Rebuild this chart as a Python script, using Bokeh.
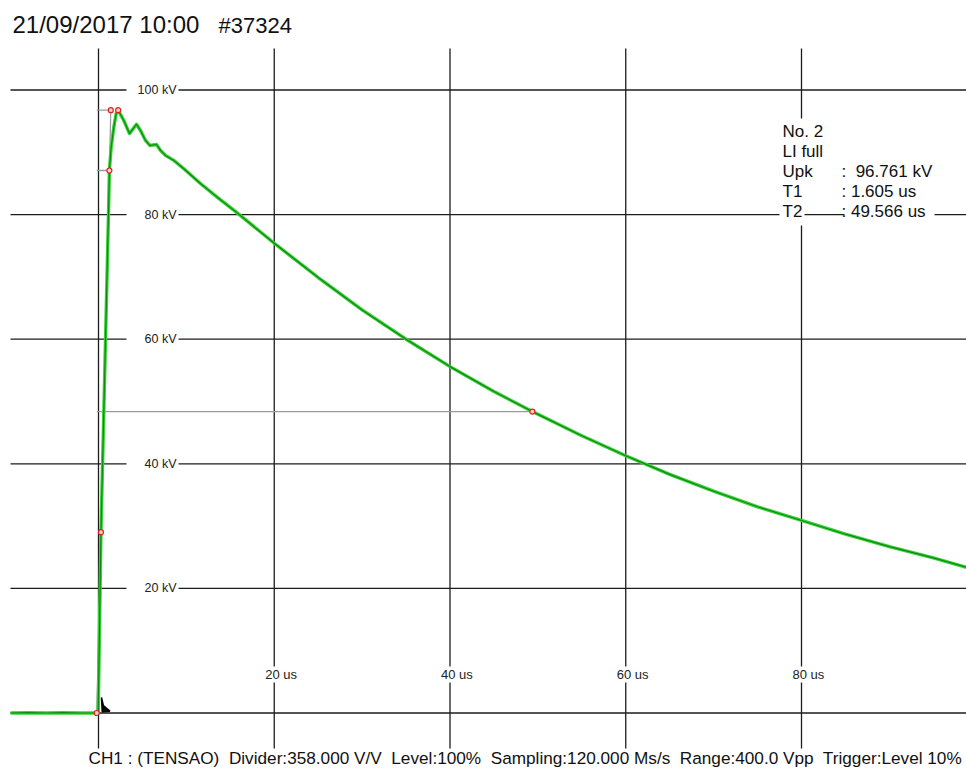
from bokeh.plotting import figure
from bokeh.models import Range1d, Label
from bokeh.embed import file_html
from bokeh.resources import INLINE

# ---------------- data ----------------
time_us = [-10.0, -8.0, -6.0, -4.0, -2.0, -0.3, -0.03,
           0.28, 0.7, 1.0, 1.17, 1.24, 1.44, 1.74, 2.01, 2.24,
           2.88, 3.53, 3.95, 4.32, 4.78, 5.35, 5.84, 6.6, 7.06, 7.62, 8.57, 9.71, 11.6, 13.5, 15.5,
           20.0, 25.0, 30.0, 35.0, 40.0, 45.0, 49.37, 55.0, 60.0, 65.0, 70.0, 75.0, 80.0, 85.0, 90.0, 95.0, 99.0]
voltage_kv = [0.0, 0.05, 0.0, 0.05, 0.0, 0.0, 0.0,
              29.03, 54.0, 72.0, 82.2, 87.08, 90.8, 94.0, 96.2, 96.76,
              95.1, 93.0, 93.8, 94.5, 93.5, 91.9, 91.1, 91.25, 90.3, 89.5, 88.7, 87.35, 85.0, 82.8, 80.6,
              75.4, 69.9, 64.7, 60.0, 55.6, 51.6, 48.38, 44.5, 41.3, 38.3, 35.6, 33.1, 30.9, 28.7, 26.7, 24.9, 23.3]

# evaluation points (virtual origin, 30 %, 90 %, end of T1, peak, half value)
eval_t = [-0.20, 0.28, 1.24, 1.40, 2.24, 49.37]
eval_kv = [0.0, 29.03, 87.08, 96.76, 96.76, 48.38]

# helper construction lines
front_t = [-0.20, 1.40]
front_kv = [0.0, 96.76]
hlines_kv = [96.76, 87.08, 48.38]
hlines_t0 = [-0.20, -0.20, -0.20]
hlines_t1 = [1.40, 1.24, 49.37]

# trigger marker near origin
trig_t = [0.34, 0.42, 1.30, 0.55]
trig_kv = [2.5, 0.2, 0.3, 1.2]

y_ticks = [0, 20, 40, 60, 80, 100]
y_tick_labels = ["", "20 kV", "40 kV", "60 kV", "80 kV", "100 kV"]
x_ticks = [0, 20, 40, 60, 80]
x_tick_labels = ["", "20 us", "40 us", "60 us", "80 us"]

NB = "\u00a0"
title_date = "21/09/2017 10:00"
title_id = "#37324"
info_names = ["No. 2", "LI full", "Upk", "T1", "T2"]
info_values = ["", "", ":" + NB + NB + "96.761 kV", ": 1.605 us", ": 49.566 us"]
footer = ("CH1 : (TENSAO)" + NB + " Divider:358.000 V/V" + NB + " Level:100%" + NB +
          " Sampling:120.000 Ms/s" + NB + " Range:400.0 Vpp" + NB + " Trigger:Level 10%")

# ---------------- layout helpers (reference pixels -> data) ----------------
X0, XS = 98.0, 8.7875
Y0, YS = 712.5, 6.23


def tx(px):
    return (px - X0) / XS


def vy(py):
    return (Y0 - py) / YS


W, H = 966, 769
p = figure(width=W, height=H, output_backend="svg", toolbar_location=None,
           x_range=Range1d(tx(0), tx(W)), y_range=Range1d(vy(H), vy(0)),
           x_axis_location=None, y_axis_location=None, min_border=0)
p.grid.visible = False
p.outline_line_color = None
p.background_fill_color = "white"
p.border_fill_color = "white"


def pieces(lo, hi, gaps):
    out, cur = [], lo
    for a, b in sorted(gaps):
        out.append((cur, a))
        cur = b
    out.append((cur, hi))
    return out


grid_col = "#1c1c1c"
hx0, hx1 = tx(10), 101.0
vy0, vy1 = vy(748), vy(48)
xs, ys = [], []
for yv, lab in zip(y_ticks, y_tick_labels):
    gaps = []
    if lab:
        gaps.append((tx(126), tx(178)))
    if yv == 80:
        gaps += [(tx(779), tx(804)), (tx(844), tx(934))]
    for a, b in pieces(hx0, hx1, gaps):
        xs.append([a, b])
        ys.append([yv, yv])
for xv, lab in zip(x_ticks, x_tick_labels):
    gaps = []
    if lab:
        gaps.append((vy(682), vy(666)))
    if xv == 80:
        gaps.append((vy(225), vy(118)))
    for a, b in pieces(vy0, vy1, gaps):
        xs.append([xv, xv])
        ys.append([a, b])
p.multi_line(xs, ys, line_color=grid_col, line_width=1.3)

# construction lines (gray)
p.line(front_t, front_kv, line_color="#9a9a9a", line_width=1.2)
p.segment(x0=hlines_t0, y0=hlines_kv, x1=hlines_t1, y1=hlines_kv, line_color="#9a9a9a", line_width=1.3)

# waveform
p.line(time_us, voltage_kv, line_color="#3ad23a", line_width=3.4, line_join="round")
p.line(time_us, voltage_kv, line_color="#0d8a0d", line_width=1.2, line_join="round")

# trigger marker
p.patch(trig_t, trig_kv, fill_color="black", line_color="black", line_width=1.5)

# evaluation points
p.scatter(eval_t, eval_kv, marker="circle", size=5, fill_color="#ffd0d0",
          line_color="#e02020", line_width=1.2)

FONT = "Liberation Sans"


def text_at(px, py, txt, size, align="left"):
    p.add_layout(Label(x=tx(px), y=vy(py), text=txt, text_font=FONT, text_font_size=size,
                       text_align=align, text_baseline="middle", text_color="#111111"))


# tick labels
for yv, lab in zip(y_ticks, y_tick_labels):
    if lab:
        p.add_layout(Label(x=tx(176), y=yv, text=lab, text_font=FONT, text_font_size="12.5px",
                           text_align="right", text_baseline="middle", text_color="#222222"))
for xv, lab in zip(x_ticks, x_tick_labels):
    if lab:
        p.add_layout(Label(x=xv, y=vy(674), x_offset=-9, text=lab, text_font=FONT,
                           text_font_size="13px", text_align="left", text_baseline="middle",
                           text_color="#222222"))

# title
text_at(12, 23.5, title_date, "24px")
text_at(218, 25.0, title_id, "22px")

# info block (vertical centre of the capitals)
centres = [131.2, 151.2, 170.6, 191.2, 211.2]
for name, val, cy in zip(info_names, info_values, centres):
    text_at(782, cy, name, "17px")
    if val:
        text_at(841, cy, val, "17px")

# footer
text_at(88, 757.5, footer, "17.2px")

open("out.html", "w").write(file_html(p, INLINE))
